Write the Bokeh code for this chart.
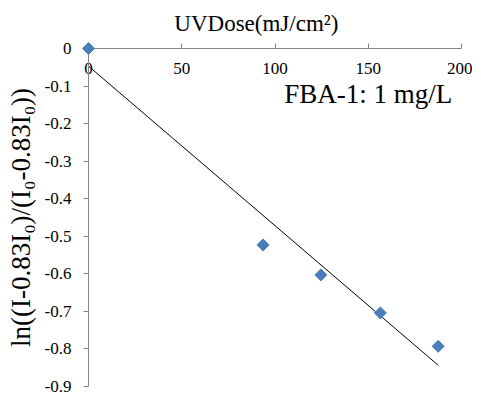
import numpy as np
from bokeh.plotting import figure
from bokeh.models import Range1d, FixedTicker, Label
from bokeh.core.properties import value
from bokeh.embed import file_html
from bokeh.resources import INLINE

# ---- data ----
dose = [0, 93.6, 124.6, 156.5, 187.5]
ln_ratio = [0, -0.523, -0.603, -0.704, -0.793]
x_ticks = [0, 50, 100, 150, 200]
x_tick_labels = ["0", "50", "100", "150", "200"]
y_ticks = [0, -0.1, -0.2, -0.3, -0.4, -0.5, -0.6, -0.7, -0.8, -0.9]
y_tick_labels = ["0", "-0.1", "-0.2", "-0.3", "-0.4", "-0.5", "-0.6", "-0.7", "-0.8", "-0.9"]
x_title = "UVDose(mJ/cm²)"
y_title = "ln((I-0.83I₀)/(I₀-0.83I₀))"
series_label = "FBA-1: 1 mg/L"

# linear trendline (least squares fit of the series)
slope, intercept = np.polyfit(dose, ln_ratio, 1)
fit_x = [min(dose), max(dose)]
fit_y = [intercept + slope * xx for xx in fit_x]

FONT = "Liberation Serif"
AXIS_GRAY = "#868686"
MARKER = "#4A7EBB"

p = figure(width=472, height=395,
           x_range=Range1d(x_ticks[0], x_ticks[-1]),
           y_range=Range1d(y_ticks[-1], y_ticks[0]),
           x_axis_location="above",
           output_backend="svg", toolbar_location=None,
           min_border_left=88, min_border_top=48,
           min_border_right=11, min_border_bottom=9)
p.outline_line_color = None
p.xgrid.visible = False
p.ygrid.visible = False
p.background_fill_color = "white"
p.border_fill_color = "white"

# x axis (top); its tick labels sit just below the axis line, as in the original
xa = p.xaxis[0]
xa.ticker = FixedTicker(ticks=x_ticks)
xa.major_label_overrides = {t: l for t, l in zip(x_ticks, x_tick_labels)}
xa.major_label_text_font = FONT
xa.major_label_text_font_size = "17px"
xa.major_label_text_color = "black"
xa.major_label_standoff = -30
xa.major_tick_out = 5
xa.major_tick_in = 0
xa.minor_tick_line_color = None
xa.axis_line_color = AXIS_GRAY
xa.major_tick_line_color = AXIS_GRAY

# y axis
ya = p.yaxis[0]
ya.ticker = FixedTicker(ticks=y_ticks)
ya.major_label_overrides = {t: l for t, l in zip(y_ticks, y_tick_labels)}
ya.major_label_text_font = FONT
ya.major_label_text_font_size = "17px"
ya.major_label_text_color = "black"
ya.major_label_standoff = 12
ya.major_tick_out = 5
ya.major_tick_in = 0
ya.minor_tick_line_color = None
ya.axis_line_color = AXIS_GRAY
ya.major_tick_line_color = AXIS_GRAY
ya.axis_label = y_title
ya.axis_label_text_font = FONT
ya.axis_label_text_font_size = "27px"
ya.axis_label_text_font_style = "normal"
ya.axis_label_text_color = "black"
ya.axis_label_standoff = 6

# trendline
p.line(fit_x, fit_y, line_color="black", line_width=1)

# data points (diamonds)
p.scatter(dose, ln_ratio, marker="square", angle=np.pi / 4, size=8.5,
          fill_color=MARKER, line_color=MARKER, level="overlay")

# x axis title, above the top axis and slightly left of centre as in the original
p.text(x=[90], y=[0.0666], text=[x_title], text_align="center",
       text_baseline="middle", text_font=value(FONT),
       text_font_size="23px", text_color="black", level="overlay")

# series label
p.add_layout(Label(x=195, y=-0.12, text=series_label, text_align="right",
                   text_baseline="middle", text_font=FONT,
                   text_font_size="27px", text_color="black"))

open("out.html", "w").write(file_html(p, INLINE))
